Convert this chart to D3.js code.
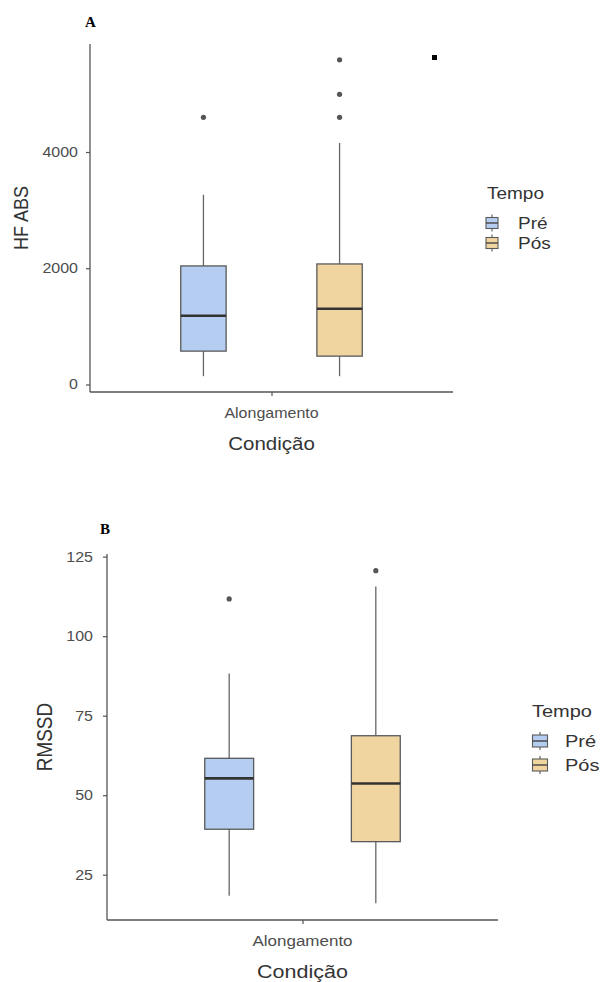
<!DOCTYPE html>
<html><head><meta charset="utf-8">
<script src="https://cdn.jsdelivr.net/npm/d3@7"></script>
<style>body{margin:0;background:#fff}svg{display:block}</style>
</head><body>
<svg id="c" width="603" height="982"></svg>
<script>
// ---------- data ----------
const groups = ["Pré", "Pós"];
const category = "Alongamento";
const legendTitle = "Tempo";
const xTitle = "Condição";

// Panel A: HF ABS
const hfLow     = [143, 143];
const hfQ1      = [574, 488];
const hfMedian  = [1183, 1303];
const hfQ3      = [2040, 2074];
const hfHigh    = [3264, 4155];
const hfOutliers = [[4597], [4597, 4993, 5586]];
const hfTicks   = [0, 2000, 4000];

// Panel B: RMSSD
const rmLow     = [18.4, 16.0];
const rmQ1      = [39.3, 35.4];
const rmMedian  = [55.3, 53.7];
const rmQ3      = [61.6, 68.7];
const rmHigh    = [88.3, 115.6];
const rmOutliers = [[111.7], [120.6]];
const rmTicks   = [25, 50, 75, 100, 125];

const fills = ["#b5cdf1", "#f1d5a0"];
const SY = 0.86; // vertical squash of the original image

const svg = d3.select("#c");
const font = "'Liberation Sans', Arial, sans-serif";

function htext(g, x, y, txt, size, anchor, fill) {
  return g.append("text")
    .attr("transform", `translate(${x},${y}) scale(1,${SY})`)
    .attr("text-anchor", anchor || "start")
    .attr("font-family", font).attr("font-size", size)
    .attr("fill", fill || "#4d4d4d").text(txt);
}

function panel(o) {
  const g = svg.append("g");
  const lo = d3.min(o.low), hi = d3.max([...o.high, ...o.outliers.flat()]);
  const pad = (hi - lo) * 0.05;
  const y = d3.scaleLinear().domain([lo - pad, hi + pad]).range([o.bottom, o.top]);
  const x = d3.scaleLinear().domain([0.4, 1.6]).range([o.left, o.right]);
  const offs = [-0.225, 0.225], bw = 0.15;

  // axes
  const yAxis = d3.axisLeft(y).tickValues(o.ticks).tickSize(4).tickPadding(0).tickFormat(d3.format("d"));
  const ya = g.append("g").attr("transform", `translate(${o.left},0)`).call(yAxis);
  ya.select(".domain").attr("stroke", "#555").attr("stroke-width", 1.3).attr("d", `M0,${o.bottom}V${o.top}`);
  ya.selectAll(".tick line").attr("stroke", "#555").attr("stroke-width", 1.2);
  ya.selectAll(".tick text").remove();
  o.ticks.forEach(t => htext(g, o.left - o.tickGap, y(t) + 5, d3.format("d")(t), o.tickSize, "end"));

  const xAxis = d3.axisBottom(x).tickValues([1]).tickSize(4).tickFormat(() => "");
  const xa = g.append("g").attr("transform", `translate(0,${o.bottom})`).call(xAxis);
  xa.select(".domain").attr("stroke", "#555").attr("stroke-width", 1.3).attr("d", `M${o.left},0H${o.right}`);
  xa.selectAll(".tick line").attr("stroke", "#555").attr("stroke-width", 1.2);
  htext(g, x(1), o.catY, category, o.catSize, "middle");
  htext(g, x(1), o.xTitleY, xTitle, o.titleSize, "middle", "#333");

  // y title (rotated)
  g.append("text")
    .attr("transform", `translate(${o.yTitleX},${(o.top + o.bottom) / 2}) rotate(-90) scale(${SY},1)`)
    .attr("text-anchor", "middle").attr("font-family", font).attr("font-size", o.yTitleSize)
    .attr("fill", "#333").text(o.yTitle);

  // boxes
  groups.forEach((grp, i) => {
    const cx = x(1 + offs[i]), x0 = x(1 + offs[i] - bw / 2), x1 = x(1 + offs[i] + bw / 2);
    g.append("line").attr("x1", cx).attr("x2", cx).attr("y1", y(o.q3[i])).attr("y2", y(o.high[i]))
      .attr("stroke", "#666").attr("stroke-width", 1.3);
    g.append("line").attr("x1", cx).attr("x2", cx).attr("y1", y(o.q1[i])).attr("y2", y(o.low[i]))
      .attr("stroke", "#666").attr("stroke-width", 1.3);
    g.append("rect").attr("x", x0).attr("width", x1 - x0).attr("y", y(o.q3[i]))
      .attr("height", y(o.q1[i]) - y(o.q3[i])).attr("fill", fills[i])
      .attr("stroke", "#5a5a5a").attr("stroke-width", 1.3);
    g.append("line").attr("x1", x0).attr("x2", x1).attr("y1", y(o.median[i])).attr("y2", y(o.median[i]))
      .attr("stroke", "#333").attr("stroke-width", 2.6);
    g.selectAll(null).data(o.outliers[i]).enter().append("circle")
      .attr("cx", cx).attr("cy", d => y(d)).attr("r", 2.6).attr("fill", "#555");
  });

  // legend
  htext(g, o.legX, o.legY, legendTitle, o.legTitleSize, "start", "#333");
  groups.forEach((grp, i) => {
    const ky = o.keyY[i], kx = o.keyX;
    g.append("line").attr("x1", kx).attr("x2", kx).attr("y1", ky - o.keyH / 2 - 2).attr("y2", ky + o.keyH / 2 + 2)
      .attr("stroke", "#666").attr("stroke-width", 1.2);
    g.append("rect").attr("x", kx - o.keyW / 2).attr("y", ky - o.keyH / 2 + 1).attr("width", o.keyW)
      .attr("height", o.keyH - 2).attr("fill", fills[i]).attr("stroke", "#5a5a5a").attr("stroke-width", 1.1);
    g.append("line").attr("x1", kx - o.keyW / 2).attr("x2", kx + o.keyW / 2).attr("y1", ky).attr("y2", ky)
      .attr("stroke", "#444").attr("stroke-width", 1.4);
    htext(g, o.legTextX, ky + 6, grp, o.legTextSize, "start", "#333");
  });

  // panel letter
  g.append("text").attr("x", o.letterX).attr("y", o.letterY)
    .attr("font-family", "'Liberation Serif', 'Times New Roman', serif").attr("font-weight", "bold")
    .attr("font-size", 15).attr("fill", "#000").text(o.letter);
  return g;
}

panel({
  letter: "A", letterX: 85, letterY: 27,
  low: hfLow, q1: hfQ1, median: hfMedian, q3: hfQ3, high: hfHigh, outliers: hfOutliers, ticks: hfTicks,
  left: 90, right: 453, top: 44, bottom: 392,
  tickGap: 12, tickSize: 16, catY: 418, catSize: 16, xTitleY: 450, titleSize: 20.5,
  yTitle: "HF ABS", yTitleX: 28, yTitleSize: 21,
  legX: 487, legY: 199, legTitleSize: 19, keyX: 492, keyY: [223, 243], keyW: 12, keyH: 13,
  legTextX: 518, legTextSize: 19
});

panel({
  letter: "B", letterX: 100, letterY: 534,
  low: rmLow, q1: rmQ1, median: rmMedian, q3: rmQ3, high: rmHigh, outliers: rmOutliers, ticks: rmTicks,
  left: 107, right: 498, top: 554, bottom: 920,
  tickGap: 14, tickSize: 16, catY: 946, catSize: 17, xTitleY: 978, titleSize: 21.5,
  yTitle: "RMSSD", yTitleX: 52, yTitleSize: 22,
  legX: 532, legY: 717, legTitleSize: 20, keyX: 540, keyY: [741, 765], keyW: 15, keyH: 14,
  legTextX: 565, legTextSize: 20
});

// small black mark in the reference image
svg.append("rect").attr("x", 432).attr("y", 55).attr("width", 5).attr("height", 5).attr("fill", "#000");
</script>
</body></html>
